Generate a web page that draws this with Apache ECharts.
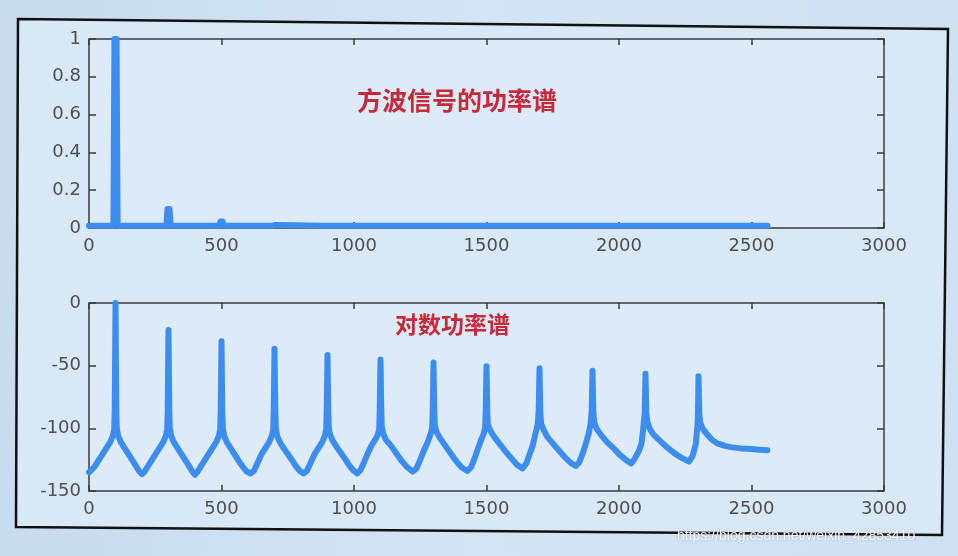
<!DOCTYPE html>
<html>
<head>
<meta charset="utf-8">
<script src="https://cdn.jsdelivr.net/npm/echarts@6/dist/echarts.min.js"></script>
<style>
html,body{margin:0;padding:0;width:958px;height:556px;overflow:hidden;background:linear-gradient(90deg,#c8dbef 0%,#d3e4f5 50%,#cfe0f2 100%);}
#chart{width:958px;height:556px;}
</style>
</head>
<body>
<div id="chart"></div>
<script>
// ---- data ----
const xTicks = [0, 500, 1000, 1500, 2000, 2500, 3000];
const topYTicks = [0, 0.2, 0.4, 0.6, 0.8, 1];
const bottomYTicks = [-150, -100, -50, 0];

// harmonics of the square wave and their normalised power (top plot)
const harmonicFreqs = [100, 300, 500, 700, 900, 1100, 1300, 1500, 1700, 1900, 2100, 2300];
const linearPeaks = [1.0, 0.1, 0.035, 0.016, 0.012, 0.012, 0.012, 0.012, 0.012, 0.012, 0.012, 0.012];
const linearFloor = 0.012;
const spectrumEnd = 2560;

// log power spectrum (dB) sampled along frequency (bottom plot)
const logFreqs = [
  0, 20, 35, 50, 65, 80, 90, 95, 97, 100, 103, 105, 110, 120, 135, 150, 165, 180, 190,
  200, 210, 220, 235, 250, 265, 280, 290, 295, 297, 300, 303, 305, 310, 320, 335, 350, 365, 380, 390,
  400, 410, 420, 435, 450, 465, 480, 490, 495, 497, 500, 503, 505, 510, 520, 535, 550, 565, 580, 595,
  610, 622, 635, 650, 665, 680, 690, 695, 697, 700, 703, 705, 710, 720, 735, 750, 765, 780, 795,
  810, 822, 835, 850, 865, 880, 890, 895, 897, 900, 903, 905, 910, 920, 935, 950, 965, 980, 995,
  1012, 1025, 1038, 1052, 1065, 1080, 1090, 1095, 1097, 1100, 1103, 1105, 1110, 1120, 1140, 1160, 1180, 1200,
  1222, 1236, 1250, 1265, 1280, 1290, 1295, 1297, 1300, 1303, 1305, 1312, 1325, 1345, 1365, 1385, 1405,
  1428, 1442, 1455, 1468, 1480, 1490, 1495, 1497, 1500, 1503, 1505, 1515, 1530, 1548, 1570, 1590, 1615,
  1636, 1650, 1662, 1674, 1685, 1693, 1697, 1700, 1703, 1706, 1715, 1730, 1750, 1775, 1800, 1820,
  1837, 1850, 1863, 1875, 1886, 1893, 1897, 1900, 1903, 1906, 1915, 1931, 1955, 1980, 2002, 2025,
  2046, 2060, 2075, 2085, 2092, 2097, 2100, 2103, 2107, 2115, 2130, 2155, 2180, 2210, 2240,
  2264, 2278, 2290, 2296, 2298, 2300, 2303, 2306, 2315, 2333, 2350, 2371, 2400, 2422, 2460, 2500, 2530, 2560
];
const logPowerDb = [
  -135, -131, -126, -121, -116, -111, -106, -101, -86, 0, -86, -100, -106, -111, -116, -121, -126, -131, -134.5,
  -136.5, -134.5, -131, -126, -121, -116, -111, -106, -101, -86, -21.5, -86, -100, -106, -111, -116, -121, -126, -131, -134.5,
  -137, -134.5, -131, -126, -121, -116, -111, -106, -101, -86, -30.5, -86, -100, -106, -111, -116, -121, -126, -130.5, -134.5,
  -136, -134, -128, -121, -116, -111, -106, -101, -86, -36.5, -86, -100, -106, -111, -116, -120.5, -125, -130, -134,
  -136, -134, -128, -121, -116, -111, -106, -101, -86, -41.5, -86, -100, -105, -110, -115, -119.5, -124, -129, -133,
  -136, -133, -127, -120, -114, -109, -105, -101, -86, -45, -86, -99, -104, -109, -114, -120, -126, -131,
  -134.5, -132, -125, -117, -110, -104, -100, -86, -47.5, -86, -98, -103, -108, -114, -120, -126, -131,
  -134, -131, -124, -116, -109, -104, -99, -86, -50.5, -86, -97, -102, -107, -112, -118, -123, -129,
  -132, -128, -121, -114, -104, -97, -86, -52, -86, -96, -101, -107, -112, -118, -124, -128,
  -130, -127, -120, -112, -104, -96, -86, -54, -86, -95, -100, -105, -111, -116, -121, -125,
  -128, -124, -118, -112, -99, -88, -56.5, -88, -95, -100, -105, -110, -115, -120, -124,
  -126.5, -122, -112, -98, -88, -58.5, -88, -95, -100, -105, -109, -112, -114, -115, -116, -116.5, -117, -117.5
];

// ---- build series data ----
const topData = [[0, linearFloor]];
harmonicFreqs.forEach((f, i) => {
  topData.push([f - 8, linearFloor], [f - 4, linearPeaks[i]], [f + 4, linearPeaks[i]], [f + 8, linearFloor]);
});
topData.push([spectrumEnd, linearFloor]);
const bottomData = logFreqs.map((f, i) => [f, logPowerDb[i]]);

const lineColor = '#3d8df0';
const axisColor = '#3a3a3a';
const labelStyle = {color: '#4e4e4e', fontSize: 18, fontFamily: 'DejaVu Sans'};
const plainNum = v => String(Math.round(v * 1000) / 1000);

function xAx(grid, pos, labels) {
  return {
    type: 'value', gridIndex: grid, position: pos, min: xTicks[0], max: xTicks[xTicks.length - 1], interval: 500,
    axisLine: {show: true, onZero: false, lineStyle: {color: axisColor, width: 1.5}},
    axisTick: {show: true, inside: true, length: 6, lineStyle: {color: axisColor, width: 1.5}},
    axisLabel: labels ? Object.assign({show: true, margin: 9, formatter: plainNum}, labelStyle) : {show: false},
    splitLine: {show: false}
  };
}
function yAx(grid, pos, labels, min, max, interval) {
  return {
    type: 'value', gridIndex: grid, position: pos, min: min, max: max, interval: interval,
    axisLine: {show: true, onZero: false, lineStyle: {color: axisColor, width: 1.5}},
    axisTick: {show: true, inside: true, length: 7, lineStyle: {color: axisColor, width: 1.5}},
    axisLabel: labels ? Object.assign({show: true, margin: 8, formatter: plainNum}, labelStyle) : {show: false},
    splitLine: {show: false}
  };
}

const chart = echarts.init(document.getElementById('chart'), null, {renderer: 'canvas'});
chart.setOption({
  animation: false,
  backgroundColor: 'transparent',
  graphic: [
    {type: 'polygon', z: -10, silent: true,
     shape: {points: [[18, 19], [948, 29], [942, 535], [16, 527]]},
     style: {fill: '#d9e8f7', stroke: '#111', lineWidth: 2.5}},
    {type: 'text', left: 357, top: 88, z: 10, silent: true,
     style: {text: '方波信号的功率谱', fill: '#c62a3a', font: 'bold 25px "Noto Sans CJK SC"'}},
    {type: 'text', left: 395, top: 313, z: 10, silent: true,
     style: {text: '对数功率谱', fill: '#c62a3a', font: 'bold 23px "Noto Sans CJK SC"'}},
    {type: 'text', left: 677, top: 529, z: 10, silent: true,
     style: {text: 'https://blog.csdn.net/weixin_42853410', fill: 'rgba(255,255,255,0.9)',
             font: '14px "Liberation Sans"', textShadowColor: 'rgba(80,90,110,0.5)', textShadowBlur: 2}}
  ],
  grid: [
    {left: 89, top: 39, width: 795, height: 189, show: true, backgroundColor: '#ddebf9', borderWidth: 0},
    {left: 89, top: 303, width: 795, height: 188, show: true, backgroundColor: '#ddebf9', borderWidth: 0}
  ],
  xAxis: [xAx(0, 'bottom', true), xAx(0, 'top', false), xAx(1, 'bottom', true), xAx(1, 'top', false)],
  yAxis: [
    yAx(0, 'left', true, topYTicks[0], topYTicks[topYTicks.length - 1], 0.2),
    yAx(0, 'right', false, topYTicks[0], topYTicks[topYTicks.length - 1], 0.2),
    yAx(1, 'left', true, bottomYTicks[0], bottomYTicks[bottomYTicks.length - 1], 50),
    yAx(1, 'right', false, bottomYTicks[0], bottomYTicks[bottomYTicks.length - 1], 50)
  ],
  series: [
    {type: 'line', xAxisIndex: 0, yAxisIndex: 0, data: topData, showSymbol: false, symbol: 'none',
     lineStyle: {color: lineColor, width: 6, join: 'round', cap: 'round'}, clip: true},
    {type: 'line', xAxisIndex: 2, yAxisIndex: 2, data: bottomData, showSymbol: false, symbol: 'none',
     lineStyle: {color: lineColor, width: 6, join: 'round', cap: 'round'}, clip: true}
  ]
});
</script>
</body>
</html>
